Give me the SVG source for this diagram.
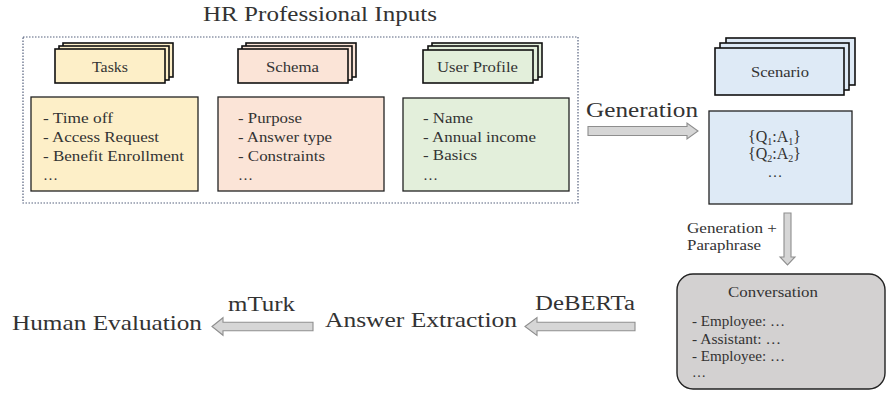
<svg xmlns="http://www.w3.org/2000/svg" width="886" height="394" viewBox="0 0 886 394">
<defs>
<style>
text{font-family:"Liberation Serif","Times New Roman",serif;fill:#333;}
.card{stroke:#111;stroke-width:1.6;}
.box{stroke:#222;stroke-width:1.3;}
.yellow{fill:#FDEFC8;}
.peach{fill:#FBE4D7;}
.green{fill:#E3EFDB;}
.blue{fill:#DEEAF6;}
.conv{fill:#D3D1D1;stroke:#222;stroke-width:1.4;}
.arrow{fill:#D6D6D6;stroke:#8E8E8E;stroke-width:1.1;}
.lbl{font-size:15px;}
.item{font-size:15px;}
.big{font-size:22px;}
</style>
</defs>
<rect width="886" height="394" fill="#fff"/>

<g id="hr-inputs">
<rect x="23" y="37" width="555" height="166" fill="none" stroke="#56627E" stroke-width="1.2" stroke-dasharray="1.5 1.5"/>
<text class="big" x="203" y="21" textLength="234" lengthAdjust="spacingAndGlyphs">HR Professional Inputs</text>
</g>

<g id="tasks">
<rect class="card yellow" x="63" y="43" width="110" height="34"/>
<rect class="card yellow" x="59" y="46" width="110" height="34"/>
<rect class="card yellow" x="55" y="49" width="110" height="34"/>
<text class="lbl" x="92" y="72" textLength="36" lengthAdjust="spacingAndGlyphs">Tasks</text>
<rect class="box yellow" x="31" y="97" width="167" height="94"/>
<text class="item" x="43" y="123" textLength="70" lengthAdjust="spacingAndGlyphs">- Time off</text>
<text class="item" x="43" y="142" textLength="116" lengthAdjust="spacingAndGlyphs">- Access Request</text>
<text class="item" x="43" y="161" textLength="141" lengthAdjust="spacingAndGlyphs">- Benefit Enrollment</text>
<text class="item" x="43" y="180" textLength="15" lengthAdjust="spacingAndGlyphs">…</text>
</g>

<g id="schema">
<rect class="card peach" x="246" y="43" width="110" height="34"/>
<rect class="card peach" x="242" y="46" width="110" height="34"/>
<rect class="card peach" x="238" y="49" width="110" height="34"/>
<text class="lbl" x="266" y="72" textLength="53" lengthAdjust="spacingAndGlyphs">Schema</text>
<rect class="box peach" x="218" y="97" width="166" height="94"/>
<text class="item" x="238" y="123" textLength="64" lengthAdjust="spacingAndGlyphs">- Purpose</text>
<text class="item" x="238" y="142" textLength="94" lengthAdjust="spacingAndGlyphs">- Answer type</text>
<text class="item" x="238" y="161" textLength="87" lengthAdjust="spacingAndGlyphs">- Constraints</text>
<text class="item" x="238" y="180" textLength="15" lengthAdjust="spacingAndGlyphs">…</text>
</g>

<g id="user-profile">
<rect class="card green" x="432" y="43" width="110" height="34"/>
<rect class="card green" x="428" y="46" width="110" height="34"/>
<rect class="card green" x="423" y="50" width="110" height="33"/>
<text class="lbl" x="437" y="72" textLength="81" lengthAdjust="spacingAndGlyphs">User Profile</text>
<rect class="box green" x="403" y="98" width="166" height="93"/>
<text class="item" x="423" y="123" textLength="50" lengthAdjust="spacingAndGlyphs">- Name</text>
<text class="item" x="423" y="142" textLength="113" lengthAdjust="spacingAndGlyphs">- Annual income</text>
<text class="item" x="423" y="160" textLength="54" lengthAdjust="spacingAndGlyphs">- Basics</text>
<text class="item" x="423" y="180" textLength="15" lengthAdjust="spacingAndGlyphs">…</text>
</g>

<g id="scenario">
<rect class="card blue" x="726" y="38" width="129" height="47"/>
<rect class="card blue" x="720" y="43" width="129" height="47"/>
<rect class="card blue" x="715" y="48" width="129" height="47"/>
<text class="lbl" x="751" y="77" textLength="58" lengthAdjust="spacingAndGlyphs">Scenario</text>
<rect class="box blue" x="709" y="111" width="143" height="93"/>
<text x="748" y="142" style="font-size:16px">{Q<tspan font-size="10" dy="3">1</tspan><tspan dy="-3">:A</tspan><tspan font-size="10" dy="3">1</tspan><tspan dy="-3">}</tspan></text>
<text x="748" y="159" style="font-size:16px">{Q<tspan font-size="10" dy="3">2</tspan><tspan dy="-3">:A</tspan><tspan font-size="10" dy="3">2</tspan><tspan dy="-3">}</tspan></text>
<text x="775" y="177" style="font-size:15px" text-anchor="middle">…</text>
</g>

<g id="conversation">
<rect class="conv" x="677" y="274" width="208" height="115" rx="16" ry="16"/>
<text x="728" y="297" style="font-size:15.5px" textLength="90" lengthAdjust="spacingAndGlyphs">Conversation</text>
<text x="692" y="326" style="font-size:14px" textLength="93" lengthAdjust="spacingAndGlyphs">- Employee: …</text>
<text x="692" y="344" style="font-size:14px" textLength="89" lengthAdjust="spacingAndGlyphs">- Assistant: …</text>
<text x="692" y="361" style="font-size:14px" textLength="93" lengthAdjust="spacingAndGlyphs">- Employee: …</text>
<text x="692" y="377" style="font-size:14px" textLength="14" lengthAdjust="spacingAndGlyphs">…</text>
</g>

<g id="answer-extraction">
<text class="big" x="325" y="327" textLength="192" lengthAdjust="spacingAndGlyphs">Answer Extraction</text>
</g>

<g id="human-evaluation">
<text class="big" x="12" y="330" textLength="190" lengthAdjust="spacingAndGlyphs">Human Evaluation</text>
</g>

<g id="connectors">
<polygon class="arrow" points="588,126.5 687,126.5 687,123 698,131 687,139 687,135.5 588,135.5"/>
<text class="big" x="586" y="117" textLength="112" lengthAdjust="spacingAndGlyphs">Generation</text>

<polygon class="arrow" points="784,213 791,213 791,257 795,257 787.5,265 780,257 784,257"/>
<text x="687" y="233" style="font-size:14.5px" textLength="90" lengthAdjust="spacingAndGlyphs">Generation +</text>
<text x="687" y="250" style="font-size:14.5px" textLength="74" lengthAdjust="spacingAndGlyphs">Paraphrase</text>

<polygon class="arrow" points="525,326.5 537,317.5 537,322.3 635,322.3 635,330.7 537,330.7 537,335.5"/>
<text x="535" y="310" style="font-size:20px" textLength="100" lengthAdjust="spacingAndGlyphs">DeBERTa</text>

<polygon class="arrow" points="212,326.5 223,317.7 223,322.3 313,322.3 313,330.7 223,330.7 223,335.3"/>
<text x="228" y="311" style="font-size:20px" textLength="67" lengthAdjust="spacingAndGlyphs">mTurk</text>
</g>
</svg>
